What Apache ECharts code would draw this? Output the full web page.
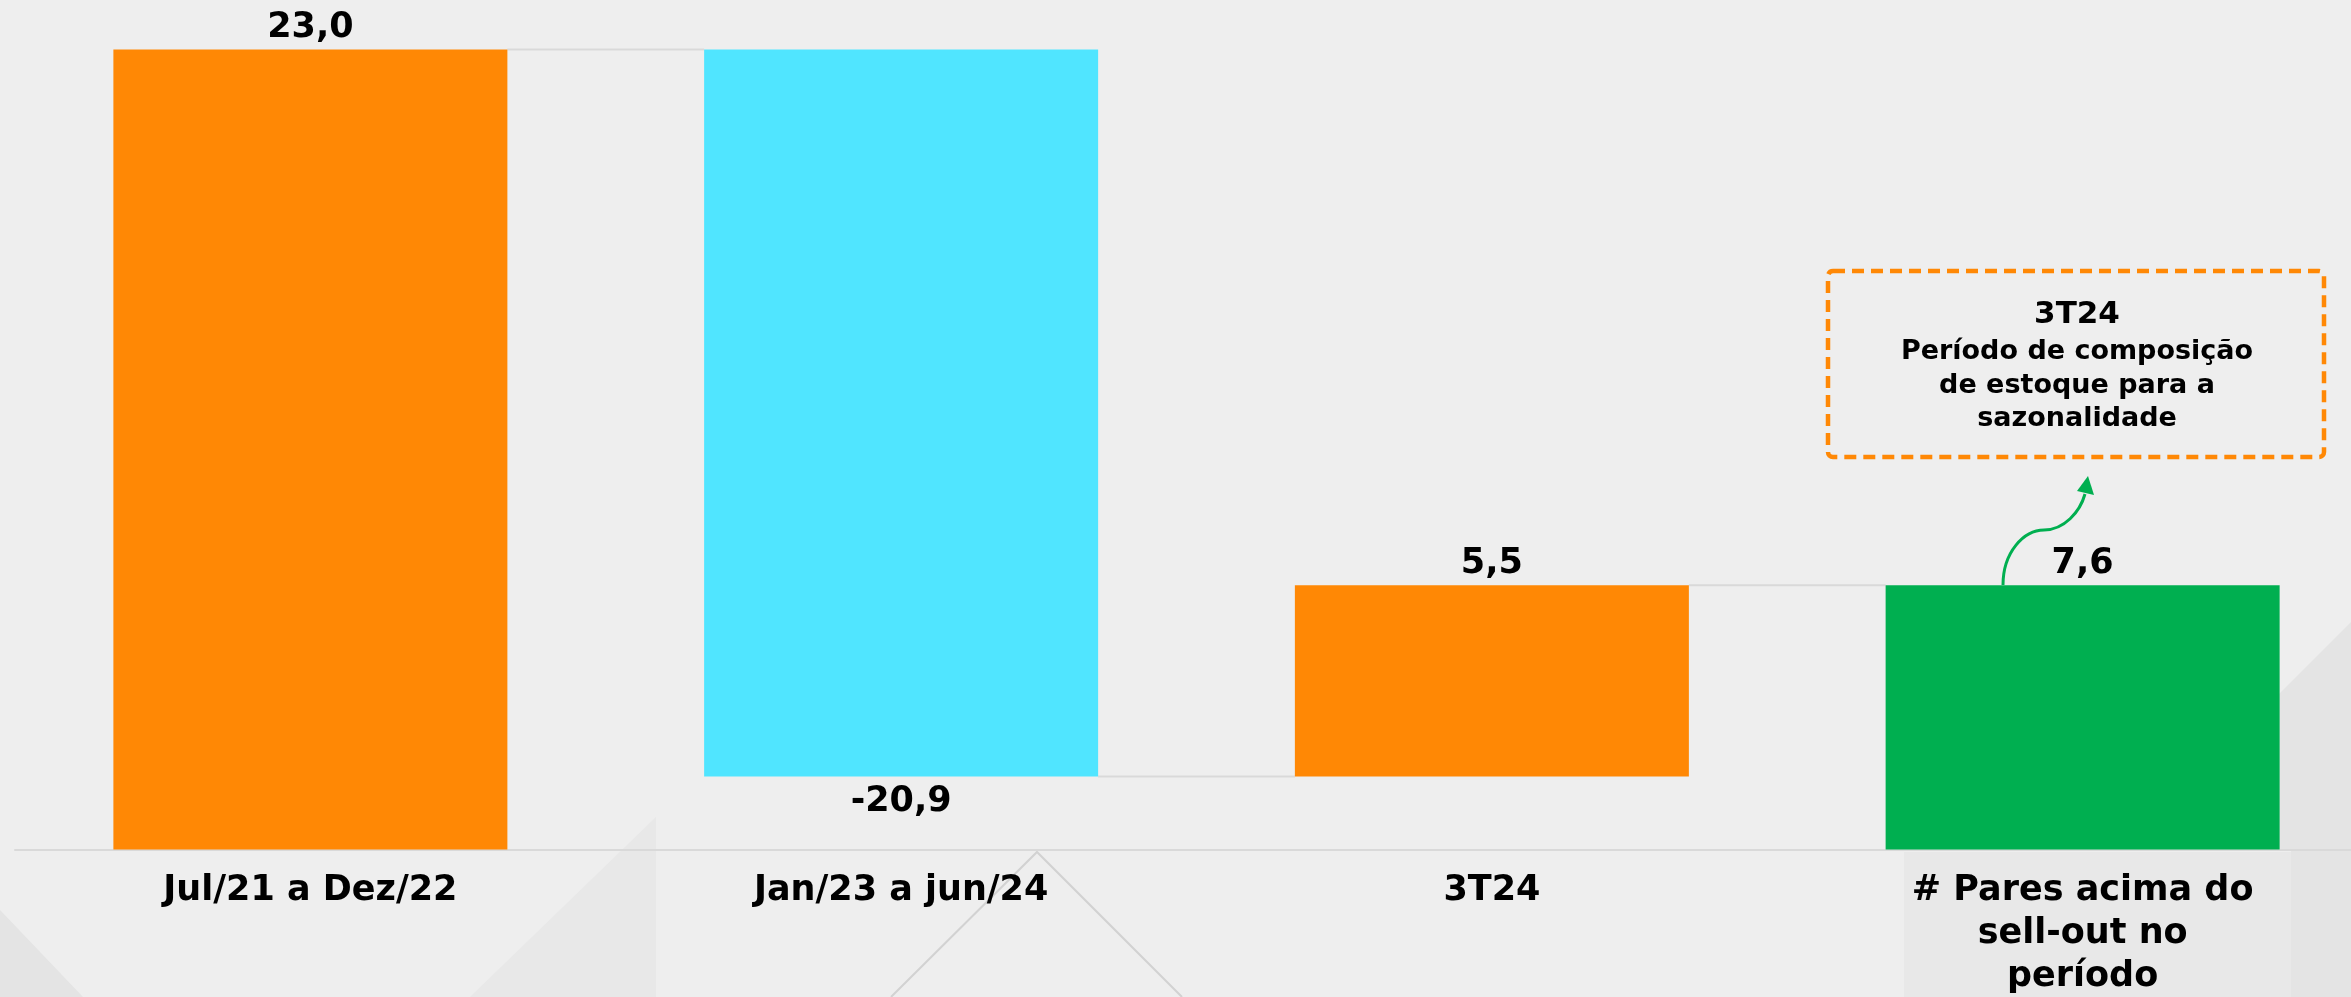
<!DOCTYPE html>
<html>
<head>
<meta charset="utf-8">
<script src="https://cdn.jsdelivr.net/npm/echarts@6/dist/echarts.min.js"></script>
<style>
  html, body { margin: 0; padding: 0; background: #eeeeee; }
  #chart { width: 2351px; height: 997px; }
</style>
</head>
<body>
<div id="chart"></div>
<script>
// categorias e valores do waterfall
var categories = ['Jul/21 a Dez/22', 'Jan/23 a jun/24', '3T24', '# Pares acima do\nsell-out no\nperíodo'];
var deltas = [23.0, -20.9, 5.5];
var totalValue = 7.6;
var barColors = ['#FF8805', '#50E5FF', '#FF8805', '#00AF50'];

var noteTitle = '3T24';
var noteLines = ['Período de composição', 'de estoque para a', 'sazonalidade'];

function fmt(v) {
    return v.toFixed(1).replace('.', ',');
}

// monta base invisivel + barras visiveis
var baseData = [];
var barData = [];
var levels = [];
var running = 0;
deltas.forEach(function (d, i) {
    var base = d >= 0 ? running : running + d;
    baseData.push(base);
    barData.push({
        value: Math.abs(d),
        itemStyle: { color: barColors[i] },
        label: {
            position: d >= 0 ? 'top' : 'bottom',
            distance: d >= 0 ? 4 : 8,
            formatter: fmt(d)
        }
    });
    running += d;
    levels.push([i, running]);
});
baseData.push(0);
barData.push({
    value: totalValue,
    itemStyle: { color: barColors[3] },
    label: { position: 'top', distance: 4, formatter: fmt(totalValue) }
});

var chartDom = document.getElementById('chart');
var myChart = echarts.init(chartDom);
var font = 'DejaVu Sans';
var option = {
    backgroundColor: '#eeeeee',
    animation: false,
    grid: { left: 15, top: 49.5, width: 2363, height: 800, outerBoundsMode: 'none', containLabel: false },
    xAxis: {
        type: 'category',
        data: categories,
        axisTick: { show: false },
        axisLine: { lineStyle: { color: '#d9d9d9', width: 2 } },
        axisLabel: {
            interval: 0,
            margin: 20,
            fontFamily: font,
            fontWeight: 'bold',
            fontSize: 35,
            lineHeight: 43,
            color: '#000'
        }
    },
    yAxis: {
        type: 'value',
        min: 0,
        max: 23,
        show: false
    },
    series: [
        {
            name: 'base',
            type: 'bar',
            stack: 'wf',
            barWidth: 394,
            itemStyle: { color: 'transparent' },
            data: baseData
        },
        {
            name: 'valor',
            type: 'bar',
            stack: 'wf',
            barWidth: 394,
            label: {
                show: true,
                fontFamily: font,
                fontWeight: 'bold',
                fontSize: 35,
                color: '#000'
            },
            data: barData
        },
        {
            name: 'conectores',
            type: 'custom',
            z: 1,
            renderItem: function (params, api) {
                var i = api.value(0);
                var lv = api.value(1);
                var p0 = api.coord([i, lv]);
                var p1 = api.coord([i + 1, lv]);
                var half = 394 / 2;
                return {
                    type: 'line',
                    shape: { x1: p0[0] + half, y1: p0[1], x2: p1[0] - half, y2: p1[1] },
                    style: { stroke: '#d9d9d9', lineWidth: 2 }
                };
            },
            data: levels
        }
    ],
    graphic: [
        // fundo decorativo
        { type: 'polygon', z: -1, shape: { points: [[0, 910], [83, 997], [0, 997]] }, style: { fill: '#e4e4e4' } },
        { type: 'polygon', z: -1, shape: { points: [[470, 997], [656, 817], [656, 997]] }, style: { fill: '#e8e8e8' } },
        { type: 'polyline', z: -1, shape: { points: [[891, 997], [1037, 852], [1182, 997]] }, style: { stroke: '#d2d2d2', lineWidth: 2, fill: null } },
        { type: 'polygon', z: -1, shape: { points: [[2351, 622], [2200, 773], [2200, 849], [2291, 849], [2291, 997], [2351, 997]] }, style: { fill: '#e4e4e4' } },
        { type: 'rect', z: -1, shape: { x: 1904, y: 852, width: 387, height: 145 }, style: { fill: '#e8e8e8' } },
        // caixa de nota
        {
            type: 'rect', z: 10,
            shape: { x: 1828, y: 271, width: 496, height: 186, r: 5 },
            style: { fill: null, stroke: '#FF8805', lineWidth: 4.5, lineDash: [12, 7] }
        },
        {
            type: 'text', z: 10, x: 2077, y: 315,
            style: { text: noteTitle, font: 'bold 31px "DejaVu Sans"', fill: '#000', align: 'center', verticalAlign: 'middle' }
        },
        {
            type: 'text', z: 10, x: 2077, y: 352,
            style: { text: noteLines[0], font: 'bold 27px "DejaVu Sans"', fill: '#000', align: 'center', verticalAlign: 'middle' }
        },
        {
            type: 'text', z: 10, x: 2077, y: 386,
            style: { text: noteLines[1], font: 'bold 27px "DejaVu Sans"', fill: '#000', align: 'center', verticalAlign: 'middle' }
        },
        {
            type: 'text', z: 10, x: 2077, y: 419,
            style: { text: noteLines[2], font: 'bold 27px "DejaVu Sans"', fill: '#000', align: 'center', verticalAlign: 'middle' }
        },
        // seta verde
        {
            type: 'bezierCurve', z: 10,
            shape: { x1: 2003, y1: 585, cpx1: 2003, cpy1: 552, cpx2: 2024, cpy2: 530, x2: 2044, y2: 530 },
            style: { fill: null, stroke: '#00AF50', lineWidth: 3 }
        },
        {
            type: 'bezierCurve', z: 10,
            shape: { x1: 2044, y1: 530, cpx1: 2064, cpy1: 530, cpx2: 2080, cpy2: 512, x2: 2085, y2: 494 },
            style: { fill: null, stroke: '#00AF50', lineWidth: 3 }
        },
        {
            type: 'polygon', z: 10,
            shape: { points: [[2077, 491], [2094, 495], [2088, 476]] },
            style: { fill: '#00AF50' }
        }
    ]
};
option && myChart.setOption(option);
</script>
</body>
</html>
